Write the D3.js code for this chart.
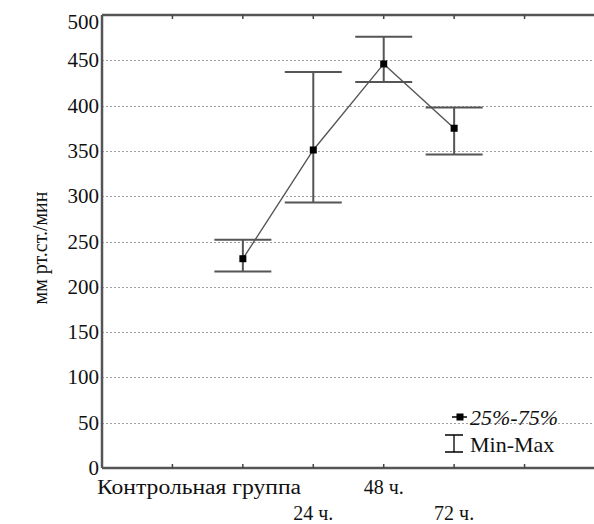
<!DOCTYPE html>
<html>
<head>
<meta charset="utf-8">
<script src="https://cdn.jsdelivr.net/npm/d3@7"></script>
<style>
  body { margin: 0; background: #fff; }
  #chart text { font-family: Liberation Serif, Times New Roman, Times, serif; }
</style>
</head>
<body>
<svg id="chart"></svg>
<script>
// группы и значения (медиана, минимум, максимум)
const groups = ["Контрольная группа", "24 ч.", "48 ч.", "72 ч."];
const medians = [231, 351, 446, 375];
const mins = [217, 293, 426, 346];
const maxs = [252, 437, 476, 398];
const yTicks = [0, 50, 100, 150, 200, 250, 300, 350, 400, 450, 500];

const width = 594, height = 524;
const svg = d3.select("#chart")
    .attr("width", width)
    .attr("height", height)
    .attr("fill", "#111");

const plotL = 102, plotR = 595, plotT = 15, plotB = 468;

// ось X: 7 делений, группы стоят на 2..5
const x = d3.scaleLinear().domain([0, 7]).range([plotL, plotR]);
const pos = i => x(i + 2);
const y = d3.scaleLinear().domain([0, 500]).range([plotB, plotT]);

// сетка
svg.append("g")
    .attr("shape-rendering", "crispEdges")
    .selectAll("line")
    .data(yTicks.filter(t => t > 0 && t < 500))
    .enter()
    .append("line")
    .attr("x1", plotL)
    .attr("x2", width)
    .attr("y1", d => Math.round(y(d)) + 0.5)
    .attr("y2", d => Math.round(y(d)) + 0.5)
    .attr("stroke", "#a0a0a0")
    .attr("stroke-width", 1)
    .attr("stroke-dasharray", "2,2");

// подписи оси Y (верхняя сдвинута вниз, как в оригинале)
svg.append("g")
    .selectAll("text")
    .data(yTicks)
    .enter()
    .append("text")
    .attr("x", plotL - 3)
    .attr("y", d => d === 500 ? y(d) + 14 : y(d) + 7)
    .attr("text-anchor", "end")
    .style("font-size", "21px")
    .text(d => d);

// рамка
const frame = svg.append("g").attr("stroke", "#555").attr("stroke-width", 2.5).attr("fill", "none");
frame.append("line").attr("x1", plotL).attr("x2", plotL).attr("y1", plotT).attr("y2", plotB);
frame.append("line").attr("x1", plotL).attr("x2", width).attr("y1", plotB).attr("y2", plotB);
frame.append("line").attr("x1", plotL).attr("x2", width).attr("y1", plotT).attr("y2", plotT);

// засечки сверху и снизу
const tickIdx = d3.range(1, 7);
svg.append("g")
    .selectAll("line")
    .data(tickIdx)
    .enter()
    .append("line")
    .attr("x1", d => x(d)).attr("x2", d => x(d))
    .attr("y1", plotB).attr("y2", plotB - 4)
    .attr("stroke", "#444").attr("stroke-width", 1.5);
svg.append("g")
    .selectAll("line")
    .data(tickIdx)
    .enter()
    .append("line")
    .attr("x1", d => x(d)).attr("x2", d => x(d))
    .attr("y1", plotT).attr("y2", plotT + 4)
    .attr("stroke", "#444").attr("stroke-width", 1.5);

// подписи групп (в два ряда, как в оригинале)
const xLabels = svg.append("g")
    .selectAll("text")
    .data(groups)
    .enter()
    .append("text")
    .attr("x", (d, i) => i === 0 ? x(0) - 5 : pos(i))
    .attr("y", (d, i) => i % 2 === 0 ? 494 : 520)
    .attr("text-anchor", (d, i) => i === 0 ? "start" : "middle")
    .style("font-size", "20px")
    .text(d => d);
// длинная подпись в оригинале шире
xLabels.filter((d, i) => i === 0)
    .attr("textLength", 204)
    .attr("lengthAdjust", "spacingAndGlyphs");

// подпись оси Y
svg.append("text")
    .attr("transform", "translate(47,248) rotate(-90)")
    .attr("text-anchor", "middle")
    .style("font-size", "20px")
    .text("мм рт.ст./мин");

// усы min-max
const capW = 28.5;
const bars = svg.append("g").attr("stroke", "#555").attr("stroke-width", 2);
groups.forEach((g, i) => {
    const cx = pos(i);
    bars.append("line").attr("x1", cx).attr("x2", cx).attr("y1", y(mins[i])).attr("y2", y(maxs[i]));
    bars.append("line").attr("x1", cx - capW).attr("x2", cx + capW).attr("y1", y(mins[i])).attr("y2", y(mins[i]));
    bars.append("line").attr("x1", cx - capW).attr("x2", cx + capW).attr("y1", y(maxs[i])).attr("y2", y(maxs[i]));
});

// линия медиан
const line = d3.line().x((d, i) => pos(i)).y(d => y(d));
svg.append("path")
    .datum(medians)
    .attr("d", line)
    .attr("fill", "none")
    .attr("stroke", "#555")
    .attr("stroke-width", 1.4);

// маркеры
svg.append("g")
    .selectAll("rect")
    .data(medians)
    .enter()
    .append("rect")
    .attr("x", (d, i) => pos(i) - 3.5)
    .attr("y", d => y(d) - 3.5)
    .attr("width", 7)
    .attr("height", 7)
    .attr("fill", "#000");

// легенда
const lg = svg.append("g");
lg.append("line").attr("x1", 452).attr("x2", 467).attr("y1", 417).attr("y2", 417)
    .attr("stroke", "#000").attr("stroke-width", 1.5);
lg.append("rect").attr("x", 456.5).attr("y", 413.5).attr("width", 7).attr("height", 7).attr("fill", "#000");
lg.append("text").attr("x", 470).attr("y", 425).style("font-size", "22px").style("font-style", "italic").text("25%-75%");
lg.append("path").attr("d", "M445,435H463M454,435V452M445,452H463")
    .attr("fill", "none").attr("stroke", "#000").attr("stroke-width", 1.3);
lg.append("text").attr("x", 470).attr("y", 452).style("font-size", "22px").text("Min-Max");
</script>
</body>
</html>
